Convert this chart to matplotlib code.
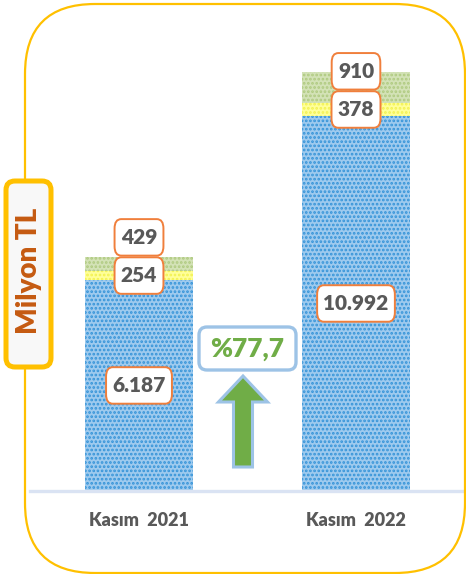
import matplotlib
matplotlib.use("Agg")
import matplotlib.pyplot as plt
from matplotlib.patches import FancyBboxPatch, FancyArrow
from matplotlib.transforms import IdentityTransform

categories = ["Kasım  2021", "Kasım  2022"]
blue_vals = [6187, 10992]
yellow_vals = [254, 378]
green_vals = [429, 910]
blue_labels = ["6.187", "10.992"]
yellow_labels = ["254", "378"]
green_labels = ["429", "910"]
pct_label = "%77,7"
ylabel = "Milyon TL"

W, H = 466, 574
DPI = 100
fig = plt.figure(figsize=(W / DPI, H / DPI), dpi=DPI)
plt.rcParams['font.family'] = ['Lato', 'DejaVu Sans']
plt.rcParams['hatch.linewidth'] = 1.3

def fx(x):
    return x / W

def fy(y):
    return (H - y) / H

# Outer rounded frame (display/pixel coords)
frame = FancyBboxPatch((25, H - 573), 440, 569,
                       boxstyle="round,pad=0,rounding_size=70",
                       transform=IdentityTransform(), fill=False,
                       edgecolor="#FFC000", linewidth=1.6, zorder=0)
fig.patches.append(frame)

# Axes
ax_left, ax_right = 30, 463
ax_bottom, ax_top = 491, 72
ax = fig.add_axes([fx(ax_left), fy(ax_bottom), (ax_right - ax_left) / W,
                   (ax_bottom - ax_top) / H])
ax.patch.set_alpha(0)
unit = 217.0
c0 = 139 - ax_left
ax.set_xlim(-c0 / unit, (ax_right - ax_left - c0) / unit)
totals = [b + y + g for b, y, g in zip(blue_vals, yellow_vals, green_vals)]
ax.set_ylim(0, max(totals))

x = list(range(len(categories)))
bw = 0.5
ax.bar(x, blue_vals, width=bw, color="#9ECAEE", hatch="....",
       edgecolor="#3493D8", linewidth=0, zorder=2)
ax.bar(x, yellow_vals, bottom=blue_vals, width=bw, color="#FFFF99",
       hatch="....", edgecolor="#F2F250", linewidth=0, zorder=2)
bottoms2 = [b + y for b, y in zip(blue_vals, yellow_vals)]
ax.bar(x, green_vals, bottom=bottoms2, width=bw, color="#D3E2B6",
       hatch="....", edgecolor="#AFCA80", linewidth=0, zorder=2)

for s in ["top", "right", "left"]:
    ax.spines[s].set_visible(False)
ax.spines["bottom"].set_color("#DAE3F3")
ax.spines["bottom"].set_linewidth(2.4)
ax.set_yticks([])
ax.set_xticks(x)
ax.set_xticklabels(categories, fontsize=13, fontweight="heavy", color="#595959")
ax.tick_params(axis="x", length=0, pad=15)

label_kw = dict(ha="center", va="center", fontsize=15, fontweight="heavy",
                color="#595959", zorder=5,
                bbox=dict(boxstyle="round,pad=0.3,rounding_size=0.32",
                          mutation_aspect=1.4,
                          facecolor="white", edgecolor="#F07F3C", linewidth=1.4))
for i in x:
    ax.annotate(blue_labels[i], (i, blue_vals[i] / 2), **label_kw)
    ymid = blue_vals[i] + yellow_vals[i] / 2
    ax.annotate(yellow_labels[i], (i, ymid), **label_kw)
    ax.annotate(green_labels[i], (i, ymid), xytext=(0, 27.5),
                textcoords="offset points", **label_kw)

# Growth arrow
arrow = FancyArrow(243, H - 467, 0, 91, width=19, head_width=49,
                   head_length=26, length_includes_head=True,
                   transform=IdentityTransform(), facecolor="#70AD47",
                   edgecolor="#9DC3E6", linewidth=2.2, zorder=6)
fig.patches.append(arrow)

# Percentage box
pbox = FancyBboxPatch((199, H - 370), 97, 43,
                      boxstyle="round,pad=0,rounding_size=8",
                      transform=IdentityTransform(), facecolor="white",
                      edgecolor="#9DC3E6", linewidth=2.4, zorder=6)
fig.patches.append(pbox)
fig.text(fx(247.5), fy(349), pct_label, ha="center", va="center",
         fontsize=19, fontweight="heavy", color="#70AD47", zorder=7)

# Y label box
ybox = FancyBboxPatch((6, H - 367), 45, 186,
                      boxstyle="round,pad=0,rounding_size=9",
                      transform=IdentityTransform(), facecolor="#F8F8F8",
                      edgecolor="#FFC000", linewidth=3.6, zorder=6)
fig.patches.append(ybox)
fig.text(fx(29), fy(271), ylabel, ha="center", va="center", rotation=90,
         fontsize=20, fontweight="heavy", color="#C55A11", zorder=7)

fig.savefig("out.png", dpi=DPI)
